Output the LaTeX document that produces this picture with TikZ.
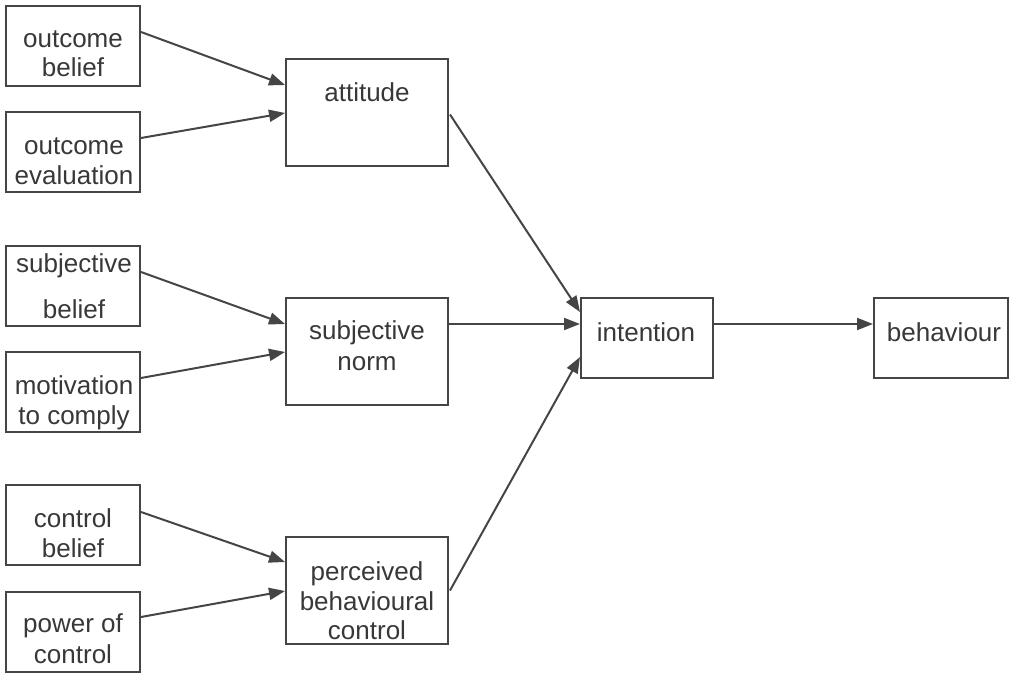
\documentclass[tikz,border=0pt]{standalone}
\usepackage{fontspec}
\setmainfont{Liberation Sans}
\usetikzlibrary{arrows.meta,calc}
\definecolor{ln}{HTML}{454545}
\definecolor{tx}{HTML}{383838}
\begin{document}
\begin{tikzpicture}[x=1pt,y=-1pt,
  box/.style={draw=ln,line width=2pt,rectangle,inner sep=0pt,fill=white},
  lbox/.style={box,minimum width=134pt,minimum height=80pt},
  mbox/.style={box,minimum width=162pt,minimum height=107pt},
  txt/.style={anchor=base,align=center,inner sep=0pt,text=tx,font=\fontsize{26}{29.5}\selectfont},
  arr/.style={draw=ln,line width=2pt,-{Triangle[length=16pt,width=12pt]}}]
\useasboundingbox (0,0) rectangle (1012,674);
% left boxes
\node[lbox] (ob) at (73,46) {};
\node[lbox] (oe) at (73,152) {};
\node[lbox] (sb) at (73,286) {};
\node[lbox] (mc) at (73,392) {};
\node[lbox] (cb) at (73,525) {};
\node[lbox] (pc) at (73,632) {};
% middle boxes
\node[mbox] (at) at (367,112.5) {};
\node[mbox] (sn) at (367,351.5) {};
\node[mbox] (pb) at (367,590.5) {};
% right boxes
\node[lbox,minimum width=132pt] (in) at (647,338) {};
\node[lbox] (be) at (941,338) {};
% texts (base anchor = baseline of last line)
\node[txt] (obt) at (73,77) {outcome\\belief};
\node[txt] (oet) at (74,184) {outcome\\evaluation};
\node[txt,font=\fontsize{26}{45.5}\selectfont] (sbt) at (74,318) {subjective\\belief};
\node[txt] (mct) at (74,424) {motivation\\to comply};
\node[txt] (cbt) at (73,557) {control\\belief};
\node[txt,font=\fontsize{26}{31}\selectfont] (pct) at (73,663) {power of\\control};
\node[txt] (att) at (367,102) {attitude};
\node[txt,font=\fontsize{26}{31}\selectfont] (snt) at (367,370) {subjective\\norm};
\node[txt] (pbt) at (367,639.5) {perceived\\behavioural\\control};
\node[txt] (int) at (646,341) {intention};
\node[txt] (bet) at (944,341) {behaviour};
% arrows
\draw[arr] ($(ob.north east)+(0,27)$) -- ($(at.north west)+(0,27)$);
\draw[arr] ($(oe.north east)+(0,27)$) -- ($(at.north west)+(0,55)$);
\draw[arr] ($(sb.north east)+(0,27)$) -- ($(sn.north west)+(0,27)$);
\draw[arr] ($(mc.north east)+(0,27)$) -- ($(sn.north west)+(0,55)$);
\draw[arr] ($(cb.north east)+(0,28)$) -- ($(pb.north west)+(0,26)$);
\draw[arr] ($(pc.north east)+(0,26)$) -- ($(pb.north west)+(0,55)$);
\draw[arr] ($(at.east)+(1,2)$) -- ($(in.north west)+(0,15)$);
\draw[arr] ($(sn.north east)+(0,27)$) -- ($(in.north west)+(0,27)$);
\draw[arr] ($(pb.east)+(1,0)$) -- ($(in.north west)+(0,60)$);
\draw[arr] ($(in.north east)+(0,27)$) -- ($(be.north west)+(0,27)$);
\end{tikzpicture}
\end{document}
